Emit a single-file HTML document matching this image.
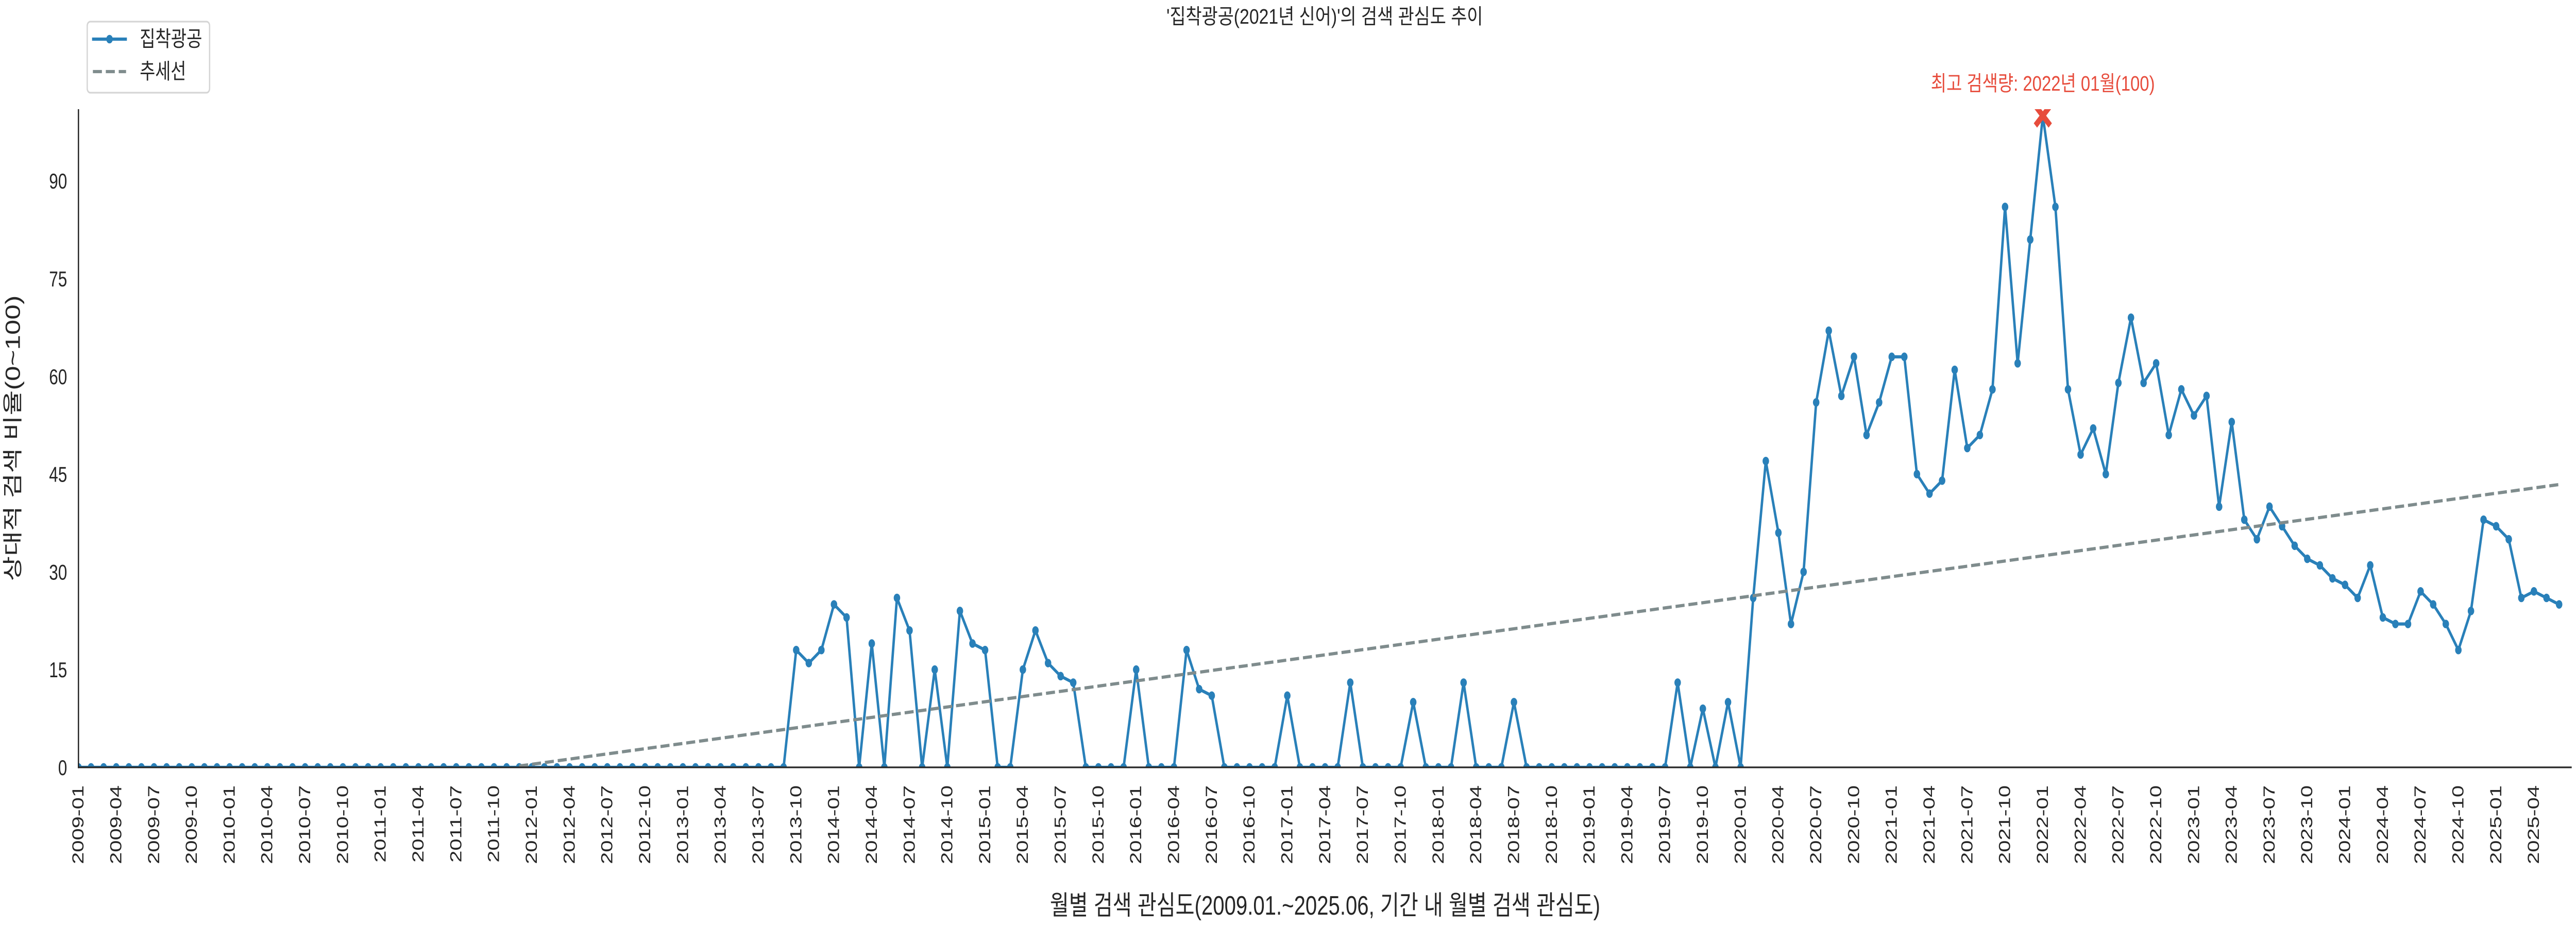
<!DOCTYPE html>
<html lang="ko">
<head>
<meta charset="utf-8">
<title>집착광공 검색 관심도 추이</title>
<style>
  html, body { margin: 0; padding: 0; background: #ffffff; width: 100%; height: 100%; overflow: hidden; }
  svg { display: block; width: 100vw; height: 100vh; }
  text { font-family: "Liberation Sans", "Noto Sans CJK KR", sans-serif; fill: #262626; }
</style>
</head>
<body>
<svg id="chart" xmlns="http://www.w3.org/2000/svg" viewBox="0 0 6600 1800" preserveAspectRatio="none">
  <defs>
    <clipPath id="plot-clip"><rect x="201" y="212" width="6388" height="1278"></rect></clipPath>
  </defs>
  <rect x="0" y="0" width="6600" height="1800" fill="#ffffff"></rect>
  <g id="series-layer" clip-path="url(#plot-clip)"></g>
  <g id="ticks-layer"></g>
  <line x1="201" y1="212" x2="201" y2="1491.6" stroke="#262626" stroke-width="3.3"></line>
  <line x1="199.4" y1="1490" x2="6589" y2="1490" stroke="#262626" stroke-width="3.3"></line>

  <text x="3394" y="46" font-size="41" text-anchor="middle" textLength="811" lengthAdjust="spacingAndGlyphs">'집착광공(2021년 신어)'의 검색 관심도 추이</text>
  <text x="3395" y="1776" font-size="52" text-anchor="middle" textLength="1410" lengthAdjust="spacingAndGlyphs">월별 검색 관심도(2009.01.~2025.06, 기간 내 월별 검색 관심도)</text>
  <text transform="translate(51 851) rotate(-90)" x="0" y="0" font-size="52" text-anchor="middle" textLength="555" lengthAdjust="spacingAndGlyphs">상대적 검색 비율(0~100)</text>

  <g>
    <rect x="223.5" y="42" width="313.5" height="138" rx="8" ry="8" fill="#ffffff" stroke="#d5d5d5" stroke-width="3.3"></rect>
    <line x1="239" y1="76" x2="322" y2="76" stroke="#2980b9" stroke-width="6.25" stroke-linecap="square"></line>
    <circle cx="280.6" cy="76" r="8.3" fill="#2980b9"></circle>
    <text x="358" y="90" font-size="42" textLength="160" lengthAdjust="spacingAndGlyphs">집착광공</text>
    <line x1="238" y1="139" x2="323" y2="139" stroke="#7f8c8d" stroke-width="6.25" stroke-dasharray="23.1 10"></line>
    <text x="358" y="153" font-size="42" textLength="119" lengthAdjust="spacingAndGlyphs">추세선</text>
  </g>
</svg>
<script>
// Monthly relative search interest, 2009-01 .. 2025-06 (198 months)
const interestValues = [
  0,0,0,0,0,0,0,0,0,0,0,0,
  0,0,0,0,0,0,0,0,0,0,0,0,
  0,0,0,0,0,0,0,0,0,0,0,0,
  0,0,0,0,0,0,0,0,0,0,0,0,
  0,0,0,0,0,0,0,0,0,18,16,18,
  25,23,0,19,0,26,21,0,15,0,24,19,
  18,0,0,15,21,16,14,13,0,0,0,0,
  15,0,0,0,18,12,11,0,0,0,0,0,
  11,0,0,0,0,13,0,0,0,0,10,0,
  0,0,13,0,0,0,10,0,0,0,0,0,
  0,0,0,0,0,0,0,13,0,9,0,10,
  0,26,47,36,22,30,56,67,57,63,51,56,
  63,63,45,42,44,61,49,51,58,86,62,81,
  100,86,58,48,52,45,59,69,59,62,51,58,
  54,57,40,53,38,35,40,37,34,32,31,29,
  28,26,31,23,22,22,27,25,22,18,24,38,
  37,35,26,27,26,25
];
const xTickLabels = [
  "2009-01","2009-04","2009-07","2009-10","2010-01","2010-04","2010-07","2010-10",
  "2011-01","2011-04","2011-07","2011-10","2012-01","2012-04","2012-07","2012-10",
  "2013-01","2013-04","2013-07","2013-10","2014-01","2014-04","2014-07","2014-10",
  "2015-01","2015-04","2015-07","2015-10","2016-01","2016-04","2016-07","2016-10",
  "2017-01","2017-04","2017-07","2017-10","2018-01","2018-04","2018-07","2018-10",
  "2019-01","2019-04","2019-07","2019-10","2020-01","2020-04","2020-07","2020-10",
  "2021-01","2021-04","2021-07","2021-10","2022-01","2022-04","2022-07","2022-10",
  "2023-01","2023-04","2023-07","2023-10","2024-01","2024-04","2024-07","2024-10",
  "2025-01","2025-04"
];
const yTickValues = [0, 15, 30, 45, 60, 75, 90];
const trendMonths = [35, 197];
const trendValues = [0.2, 43.4];

const SVG_NS = "http://www.w3.org/2000/svg";
const plotLeft = 201, plotRight = 6589, plotTop = 212, plotBottom = 1490;
const xMax = 198, yMax = 101;
function xScale(i) { return plotLeft + (i / xMax) * (plotRight - plotLeft); }
function yScale(v) { return plotBottom - (v / yMax) * (plotBottom - plotTop); }

const seriesLayer = document.getElementById("series-layer");
const ticksLayer = document.getElementById("ticks-layer");

// main series line
const seriesLine = document.createElementNS(SVG_NS, "polyline");


seriesLine.setAttribute("points", interestValues.map(function (v, i) { return xScale(i).toFixed(2) + "," + yScale(v).toFixed(2); }).join(" "));
seriesLine.setAttribute("fill", "none");
seriesLine.setAttribute("stroke", "#2980b9");
seriesLine.setAttribute("stroke-width", "6.25");
seriesLine.setAttribute("stroke-linejoin", "round");
seriesLayer.appendChild(seriesLine);

// markers
interestValues.forEach(function (v, i) {
  const dot = document.createElementNS(SVG_NS, "circle");
  
  
  dot.setAttribute("cx", xScale(i).toFixed(2));
  dot.setAttribute("cy", yScale(v).toFixed(2));
  dot.setAttribute("r", "8.3");
  dot.setAttribute("fill", "#2980b9");
  seriesLayer.appendChild(dot);
});

// trend line
const trendLine = document.createElementNS(SVG_NS, "polyline");


trendLine.setAttribute("points", trendMonths.map(function (m, i) { return xScale(m).toFixed(2) + "," + yScale(trendValues[i]).toFixed(2); }).join(" "));
trendLine.setAttribute("fill", "none");
trendLine.setAttribute("stroke", "#7f8c8d");
trendLine.setAttribute("stroke-width", "6.25");
trendLine.setAttribute("stroke-dasharray", "23.1 10");
seriesLayer.appendChild(trendLine);

// peak marker + annotation
const peakValue = Math.max.apply(null, interestValues);
const peakIndex = interestValues.indexOf(peakValue);
const peakX = xScale(peakIndex);
const peakY = yScale(peakValue);
const peakMarker = document.createElementNS(SVG_NS, "path");


peakMarker.setAttribute("d", "M" + (peakX - 19) + " " + (peakY - 19) + "L" + (peakX + 19) + " " + (peakY + 19) + "M" + (peakX - 19) + " " + (peakY + 19) + "L" + (peakX + 19) + " " + (peakY - 19));
peakMarker.setAttribute("stroke", "#e74c3c");
peakMarker.setAttribute("stroke-width", "12");
peakMarker.setAttribute("fill", "none");
seriesLayer.appendChild(peakMarker);

const peakLabel = document.createElementNS(SVG_NS, "text");


peakLabel.setAttribute("x", peakX.toFixed(2));
peakLabel.setAttribute("y", "176");
peakLabel.setAttribute("font-size", "41");
peakLabel.setAttribute("text-anchor", "middle");
peakLabel.setAttribute("textLength", "574");
peakLabel.setAttribute("lengthAdjust", "spacingAndGlyphs");
peakLabel.setAttribute("style", "fill:#e74c3c");
peakLabel.textContent = "최고 검색량: 2022년 01월(100)";
document.getElementById("chart").appendChild(peakLabel);

// x tick labels (every third month)
xTickLabels.forEach(function (label, i) {
  const t = document.createElementNS(SVG_NS, "text");
  
  
  t.setAttribute("transform", "translate(" + (xScale(i * 3) + 13).toFixed(2) + " 1525) rotate(-90)");
  t.setAttribute("font-size", "41.67");
  t.setAttribute("text-anchor", "end");
  t.textContent = label;
  ticksLayer.appendChild(t);
});

// y tick labels
yTickValues.forEach(function (v) {
  const t = document.createElementNS(SVG_NS, "text");
  
  
  t.setAttribute("x", "172");
  t.setAttribute("y", (yScale(v) + 15).toFixed(2));
  t.setAttribute("font-size", "41.67");
  t.setAttribute("text-anchor", "end");
  t.textContent = String(v);
  ticksLayer.appendChild(t);
});
</script>
</body>
</html>
